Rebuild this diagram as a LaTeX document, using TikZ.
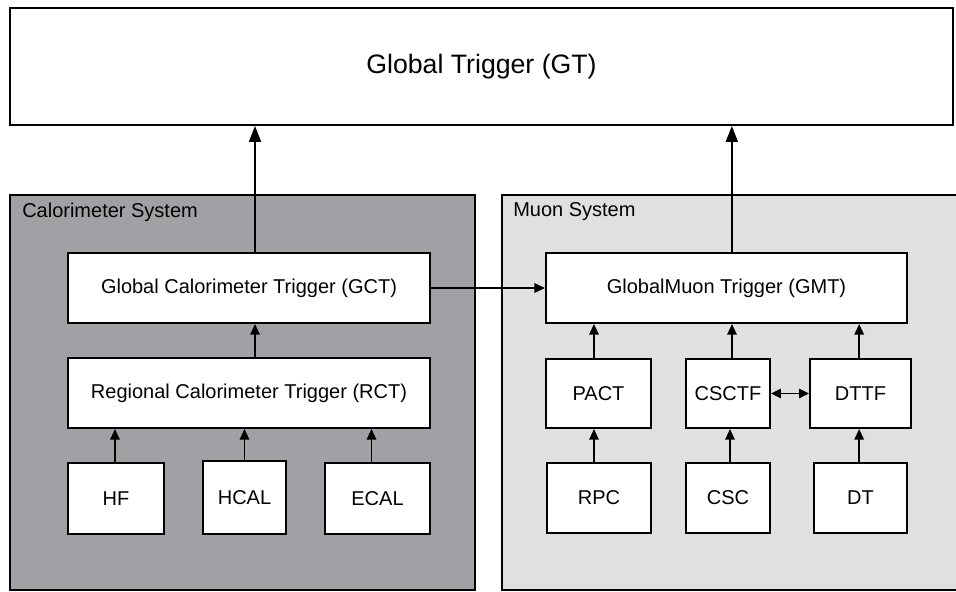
\documentclass[tikz,border=0pt]{standalone}
\usepackage{fontspec}
\setmainfont{Liberation Sans}
\usetikzlibrary{arrows.meta}

\definecolor{calfill}{RGB}{161,161,165}
\definecolor{muonfill}{RGB}{224,224,224}

\tikzset{
  box/.style={draw=black, fill=white, line width=1.4pt, inner sep=0pt,
              font=\fontsize{15}{18}\selectfont},
  sysbox/.style={draw=black, line width=1.2pt, inner sep=0pt},
  syslabel/.style={anchor=west, inner sep=0pt, font=\fontsize{15}{18}\selectfont},
  bigarr/.style={line width=1.4pt, -{Triangle[length=12pt, width=9pt]}},
  arr/.style={line width=1.4pt, -{Triangle[length=8pt, width=7pt]}},
  dblarr/.style={line width=1.4pt, {Triangle[length=7.5pt, width=7pt]}-{Triangle[length=7.5pt, width=7pt]}}
}

\begin{document}
\begin{tikzpicture}[x=0.75pt, y=-0.75pt]
  \useasboundingbox (0,0) rectangle (956,592);

  % Top level trigger
  \node[box, minimum width=943*0.75pt, minimum height=117*0.75pt,
        font=\fontsize{20}{24}\selectfont] (gt) at (481.5,66.5) {Global Trigger (GT)};

  % Subsystem containers
  \node[sysbox, fill=calfill, minimum width=465*0.75pt, minimum height=395*0.75pt]
       (calsys) at (242.5,392.5) {};
  \node[sysbox, fill=muonfill, minimum width=460*0.75pt, minimum height=395*0.75pt]
       (muonsys) at (732,392.5) {};
  \node[syslabel] (callabel) at (22,212) {Calorimeter System};
  \node[syslabel] (muonlabel) at (513,212) {Muon System};

  % Calorimeter chain
  \node[box, minimum width=362*0.75pt, minimum height=70*0.75pt] (gct) at (249,288) {Global Calorimeter Trigger (GCT)};
  \node[box, minimum width=362*0.75pt, minimum height=70*0.75pt] (rct) at (249,393) {Regional Calorimeter Trigger (RCT)};
  \node[box, minimum width=96*0.75pt, minimum height=71*0.75pt] (hf) at (116,498.5) {HF};
  \node[box, minimum width=83*0.75pt, minimum height=73*0.75pt] (hcal) at (244.5,497.5) {HCAL};
  \node[box, minimum width=105*0.75pt, minimum height=71*0.75pt] (ecal) at (377.5,498.5) {ECAL};

  % Muon chain
  \node[box, minimum width=361*0.75pt, minimum height=70*0.75pt] (gmt) at (726.5,288) {GlobalMuon Trigger (GMT)};
  \node[box, minimum width=105*0.75pt, minimum height=69*0.75pt] (pact) at (598.5,393.5) {PACT};
  \node[box, minimum width=84*0.75pt, minimum height=69*0.75pt] (csctf) at (728,393.5) {CSCTF};
  \node[box, minimum width=101*0.75pt, minimum height=69*0.75pt] (dttf) at (860.5,393.5) {DTTF};
  \node[box, minimum width=104*0.75pt, minimum height=70*0.75pt] (rpc) at (599,498) {RPC};
  \node[box, minimum width=84*0.75pt, minimum height=70*0.75pt] (csc) at (728,498) {CSC};
  \node[box, minimum width=93*0.75pt, minimum height=70*0.75pt] (dt) at (860.5,498) {DT};

  % Connections into the Global Trigger
  \draw[bigarr] ([xshift=4.5pt]gct.north) -- ([xshift=4.5pt]gct.north |- gt.south);
  \draw[bigarr] ([xshift=4pt]gmt.north) -- ([xshift=4pt]gmt.north |- gt.south);

  % Calorimeter connections
  \draw[arr] ([xshift=4.5pt]rct.north) -- ([xshift=4.5pt]rct.north |- gct.south);
  \draw[arr] ([xshift=-0.75pt]hf.north) -- ([xshift=-0.75pt]hf.north |- rct.south);
  \draw[arr] (hcal.north) -- (hcal.north |- rct.south);
  \draw[arr] ([xshift=-4.5pt]ecal.north) -- ([xshift=-4.5pt]ecal.north |- rct.south);

  % Calorimeter to muon trigger
  \draw[arr] (gct.east) -- (gmt.west);

  % Muon connections
  \draw[arr] ([xshift=-3.4pt]pact.north) -- ([xshift=-3.4pt]pact.north |- gmt.south);
  \draw[arr] ([xshift=3pt]csctf.north) -- ([xshift=3pt]csctf.north |- gmt.south);
  \draw[arr] ([xshift=-1pt]dttf.north) -- ([xshift=-1pt]dttf.north |- gmt.south);
  \draw[arr] ([xshift=-3.75pt]rpc.north) -- ([xshift=-3.75pt]rpc.north |- pact.south);
  \draw[arr] ([xshift=1.5pt]csc.north) -- ([xshift=1.5pt]csc.north |- csctf.south);
  \draw[arr] ([xshift=-1pt]dt.north) -- ([xshift=-1pt]dt.north |- dttf.south);
  \draw[dblarr] (csctf.east) -- (dttf.west);
\end{tikzpicture}
\end{document}
